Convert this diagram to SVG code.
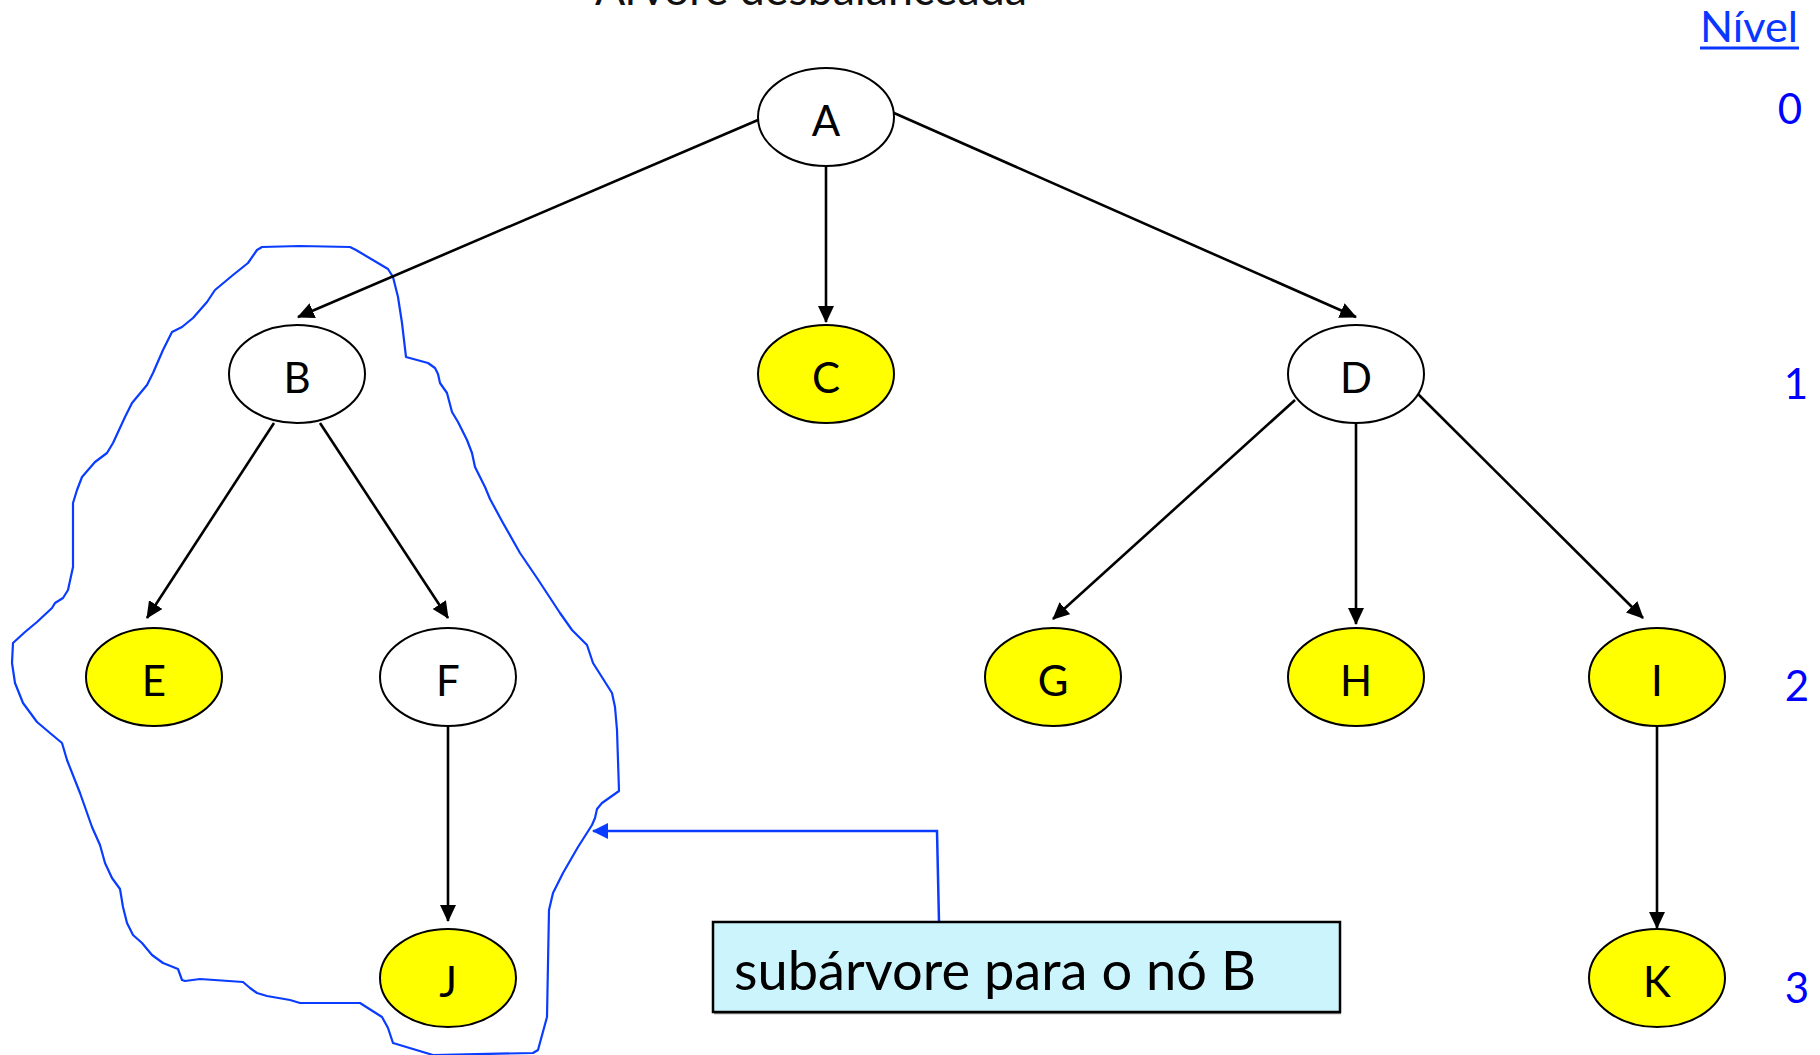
<svg xmlns="http://www.w3.org/2000/svg" width="1820" height="1055" viewBox="0 0 1820 1055">
<style>
  .node ellipse { stroke: #000; stroke-width: 2; }
  .white { fill: #ffffff; }
  .yellow { fill: #ffff00; }
  .lbl { font-family: Lato, "Open Sans", "Liberation Sans", sans-serif; font-size: 42px; fill: #000; text-anchor: middle; }
  .edge { stroke: #000; stroke-width: 2.6; fill: none; marker-end: url(#ah); }
  .lvl { font-family: Lato, "Open Sans", "Liberation Sans", sans-serif; font-size: 42px; fill: #0000ff; text-anchor: middle; }
</style>
<defs>
  <marker id="ah" markerUnits="userSpaceOnUse" markerWidth="17" markerHeight="16" viewBox="0 0 17 16" refX="16" refY="8" orient="auto">
    <path d="M0,0 L17,8 L0,16 z" fill="#000"/>
  </marker>
  <marker id="bh" markerUnits="userSpaceOnUse" markerWidth="16" markerHeight="16" viewBox="0 0 16 16" refX="15" refY="8" orient="auto">
    <path d="M0,0 L16,8 L0,16 z" fill="#0a3cff"/>
  </marker>
</defs>
<rect width="1820" height="1055" fill="#ffffff"/>

<text id="title" x="811" y="5" font-family="Lato, 'Open Sans', 'Liberation Sans', sans-serif" font-size="45" fill="#111" text-anchor="middle" textLength="432" lengthAdjust="spacingAndGlyphs">Árvore desbalanceada</text>

<g id="nivel">
  <text x="1749" y="42" font-family="Lato, 'Open Sans', 'Liberation Sans', sans-serif" font-size="42" fill="#0a37ff" text-anchor="middle" textLength="98" lengthAdjust="spacingAndGlyphs">Nível</text>
  <line x1="1700" y1="48" x2="1799" y2="48" stroke="#0a37ff" stroke-width="3"/>
  <text class="lvl" x="1790" y="124">0</text>
  <text class="lvl" x="1796" y="399">1</text>
  <text class="lvl" x="1797" y="701">2</text>
  <text class="lvl" x="1797" y="1003">3</text>
</g>

<path id="subtree-outline" fill="none" stroke="#0a3cff" stroke-width="2.2" stroke-linejoin="round" d="M257,250 L262,247 L300,246 L350,247 L356,250 L388,269 L393,277 L398,297 L402,323 L406,357 L428,363 L435,368 L438,374 L440,383 L447,393 L452,412 L458,422 L467,440 L472,453 L475,467 L485,487 L490,499 L503,523 L520,553 L537,578 L560,613 L572,630 L587,645 L593,663 L612,693 L615,707 L617,730 L619,791 L602,803 L597,809 L595,818 L592,825 L578,847 L563,873 L553,893 L549,910 L548,963 L547,1017 L538,1050 L533,1053 L433,1055 L393,1043 L388,1028 L382,1017 L360,1003 L300,1003 L290,1000 L267,996 L257,993 L250,988 L243,982 L200,979 L185,981 L182,980 L178,969 L163,963 L152,955 L142,943 L133,935 L127,923 L123,907 L120,889 L112,878 L105,863 L100,845 L92,827 L80,793 L67,760 L62,743 L50,733 L37,722 L23,703 L15,683 L12,663 L13,643 L25,632 L37,622 L52,608 L55,603 L63,598 L68,590 L73,567 L73,540 L73,503 L77,490 L82,477 L95,462 L107,453 L113,443 L125,417 L132,403 L147,385 L153,373 L163,350 L172,332 L182,327 L193,318 L207,302 L215,290 L233,275 L248,263 Z"/>

<g id="connectors">
  <path class="edge" d="M758,120 L298,317"/>
  <path class="edge" d="M826,166 L826,322"/>
  <path class="edge" d="M894,113 L1356,317"/>
  <path class="edge" d="M274,423 L147,618"/>
  <path class="edge" d="M320,423 L448,618"/>
  <path class="edge" d="M448,726 L448,921"/>
  <path class="edge" d="M1295,400 L1053,619"/>
  <path class="edge" d="M1356,423 L1356,624"/>
  <path class="edge" d="M1417,393 L1643,618"/>
  <path class="edge" d="M1657,726 L1657,928"/>
  <path d="M939,922 L937,831 L593,831" fill="none" stroke="#0a3cff" stroke-width="2.5" marker-end="url(#bh)"/>
</g>

<g id="node-A" class="node"><ellipse class="white" cx="826" cy="117" rx="68" ry="49"/><text class="lbl" x="826" y="136">A</text></g>
<g id="node-B" class="node"><ellipse class="white" cx="297" cy="374" rx="68" ry="49"/><text class="lbl" x="297" y="393">B</text></g>
<g id="node-C" class="node"><ellipse class="yellow" cx="826" cy="374" rx="68" ry="49"/><text class="lbl" x="826" y="393">C</text></g>
<g id="node-D" class="node"><ellipse class="white" cx="1356" cy="374" rx="68" ry="49"/><text class="lbl" x="1356" y="393">D</text></g>
<g id="node-E" class="node"><ellipse class="yellow" cx="154" cy="677" rx="68" ry="49"/><text class="lbl" x="154" y="696">E</text></g>
<g id="node-F" class="node"><ellipse class="white" cx="448" cy="677" rx="68" ry="49"/><text class="lbl" x="448" y="696">F</text></g>
<g id="node-G" class="node"><ellipse class="yellow" cx="1053" cy="677" rx="68" ry="49"/><text class="lbl" x="1053" y="696">G</text></g>
<g id="node-H" class="node"><ellipse class="yellow" cx="1356" cy="677" rx="68" ry="49"/><text class="lbl" x="1356" y="696">H</text></g>
<g id="node-I" class="node"><ellipse class="yellow" cx="1657" cy="677" rx="68" ry="49"/><text class="lbl" x="1657" y="696">I</text></g>
<g id="node-J" class="node"><ellipse class="yellow" cx="448" cy="978" rx="68" ry="49"/><text class="lbl" x="448" y="997">J</text></g>
<g id="node-K" class="node"><ellipse class="yellow" cx="1657" cy="978" rx="68" ry="49"/><text class="lbl" x="1657" y="997">K</text></g>

<g id="callout">
  <line x1="714" y1="1013.5" x2="1341" y2="1013.5" stroke="#888" stroke-width="1.5"/>
  <rect x="713" y="922" width="627" height="90" fill="#ccf4fc" stroke="#000" stroke-width="2.5"/>
  <text x="734" y="990" font-family="Lato, 'Open Sans', 'Liberation Sans', sans-serif" font-size="54" fill="#000" textLength="522" lengthAdjust="spacingAndGlyphs">subárvore para o nó B</text>
</g>
</svg>
